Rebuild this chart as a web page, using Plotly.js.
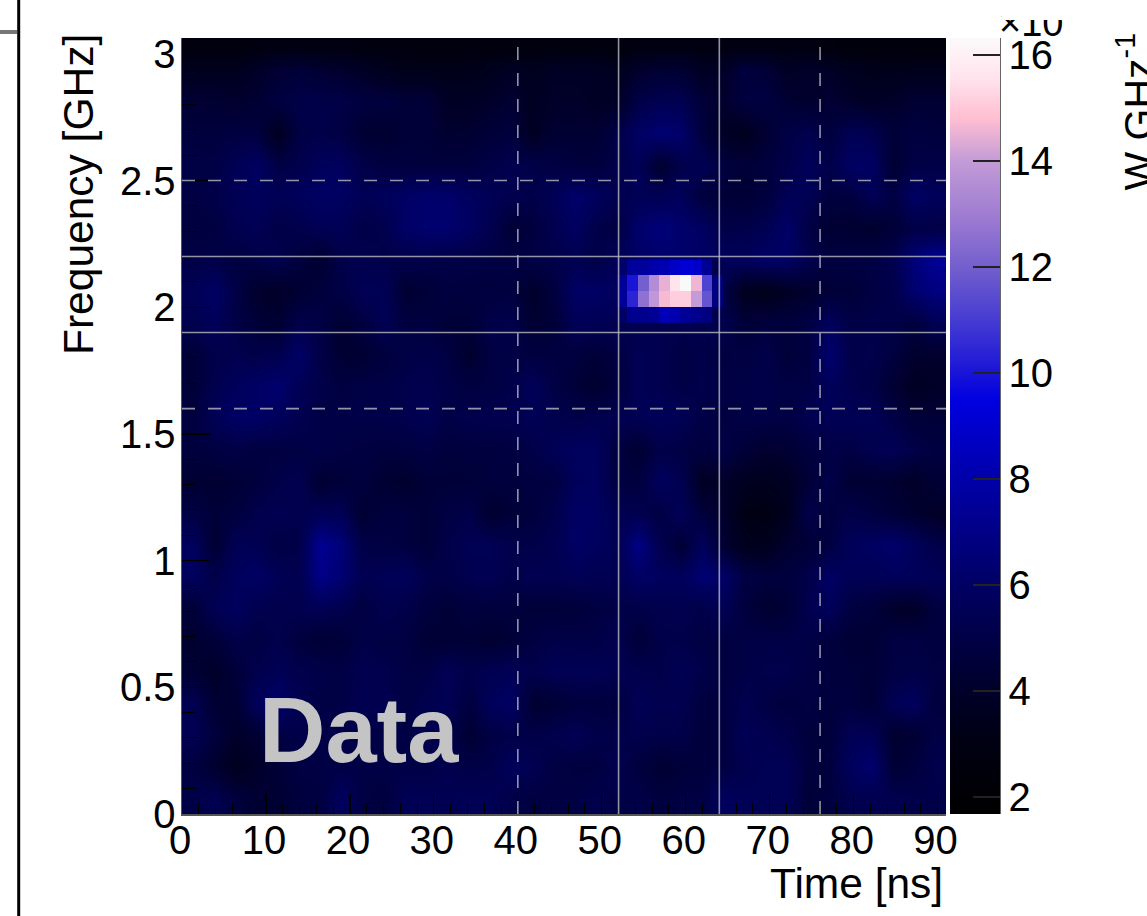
<!DOCTYPE html>
<html>
<head>
<meta charset="utf-8">
<script src="https://cdn.plot.ly/plotly-3.0.1.min.js"></script>
<style>html,body{margin:0;padding:0;background:#fff;overflow:hidden}#wrap{position:relative;width:1147px;height:916px}#chart{width:1147px;height:916px}#crop{position:absolute;left:1002px;top:0;width:90px;height:20px;background:#fff}</style>
</head>
<body>
<div id="wrap"><div id="chart"></div><div id="crop"></div></div>
<script>
// Background power, top row (highest frequency) first, 36 time bins per row
const backgroundPower = [
[2.7,2.7,2.7,2.8,2.9,2.9,2.9,2.9,2.8,2.8,2.7,2.7,2.7,2.7,2.7,2.7,2.7,2.7,2.7,2.7,2.7,2.9,2.9,2.9,2.9,2.9,2.9,2.9,2.9,2.9,2.7,2.6,2.6,2.6,2.6,2.6],
[3.5,3.5,3.5,3.9,4.3,4.5,4.3,4.1,3.8,3.5,3.3,3.3,3.3,3.3,3.5,3.8,3.5,3.8,3.8,3.8,3.5,4.1,4.3,4.3,3.7,3.9,4.7,4.5,3.8,4,3.9,3.5,3.4,3.3,3.4,3.4],
[4.3,4.3,4.1,4.3,4.8,5.1,5.1,5,4.8,4.7,4.5,4.5,3.8,3.8,4,4.3,3.6,4,4,3.8,3.9,5,5.4,5.4,4.5,4.1,4.8,4.8,4.3,4.1,4.3,4,3.8,4,4.3,4.3],
[4.7,4.7,4.8,4.8,3.6,4.9,5.1,4.9,4.3,4.2,4.5,4.5,4.2,4.3,4.5,4.7,3.7,4.3,4.3,4.3,5,6,6.4,6.2,4.7,3.8,3.5,4.3,5,5.3,4.7,5.5,5.3,4.5,4.8,4.7],
[5,4.9,5.5,5.9,5,5.2,5.7,5.8,5.1,4.8,4.7,4.7,4.7,4.7,5,5.3,5.1,4.9,4.7,4.7,5.1,5.6,4.2,5.2,5.5,4.8,4.5,4.7,5.1,5.7,5.1,6,6,4.3,5,5],
[4.9,5.1,5.5,5.7,5.5,5.7,6,5.9,5.5,5.7,6,6.2,6.2,5.8,5.5,5.3,5.1,5.5,6.2,5.8,5.3,5.5,5.5,5.7,4.7,4.5,4.4,4.7,5.5,5.5,4.7,4.8,5.5,4.9,6,5.7],
[4.7,4.8,5.3,5.5,5,5.2,5.5,5.5,5,5.2,6.1,6.3,6.3,5.9,5.3,4.4,4.7,5.3,5.9,5.1,4.8,6.2,6.6,6.2,5.9,5.1,5.1,5.4,6.1,4.9,4.3,4.3,4.1,4.5,5,5],
[5,5.1,4.8,5,5.3,4.7,4.2,5.1,5.3,5.1,5.1,5.1,5,5,4.9,4.9,5,5.1,5.4,5,5.6,6,6.2,6.2,6,5.8,5.7,6.1,6,5.3,4.8,4.9,4.9,5.3,6.6,7.4],
[5.5,6,5,4.1,3.9,4.3,4.7,5,5.5,5.5,4.3,4.5,4.8,4.7,4.7,4.8,4,4.7,6,6,5.8,7,8,8,5.5,5,3.6,3.3,3.8,4.1,4.5,4.5,4.9,5.1,6.3,6.8],
[5.3,5.7,5,4.5,4.3,5.2,5,4.3,4.8,5.5,4.8,4.8,4.5,4.5,5.1,5.2,4.3,4.5,5.6,5.5,5.4,5.2,5.3,5.3,5.2,5.3,4.5,4.7,4.7,4.9,5.8,5,5.1,5.1,4.7,5.5],
[4.5,5.1,5.3,5.1,5.3,6.1,5,4.3,4.3,4.7,5,5.1,4.9,4.1,4.9,5,4.8,4.8,4.7,4.5,4.8,5.5,5.3,4.9,5.1,4.8,4.9,5.1,4.5,4.8,6.3,5.1,5.2,4.8,4.1,4.1],
[4.5,5.3,5.7,6,6.3,5.5,5.1,4.8,5,5,5.2,5.3,5,4.8,4.9,5.1,5.6,5,4.5,4.2,4.7,5.5,5.3,5,5.2,4.9,5,5.1,4.9,5,5.7,5.2,5,4.3,3.7,3.9],
[4.8,5.5,6,6,5.7,5.3,5,5,5.1,5.1,5.2,5.5,5,5.2,5.3,5.3,5.5,5.3,5.1,5.3,5.3,5.5,5.6,5.5,5,4.8,5,5,4.9,5.3,5.5,5.5,5.5,5,4.5,4.5],
[4.7,4.8,5,4.8,4.8,4.9,5.1,4.9,4.8,4.7,4.8,4.9,4.7,4.7,4.7,4.8,5.1,5.5,5.8,5.8,4.7,4.3,5.1,4.9,4.7,5,4.5,4.2,4.3,4.7,5,4.9,5.3,5.5,5.1,4.8],
[4.3,4.3,4.4,4.7,5.1,5.3,4.3,4.5,4.7,4.3,4.1,4.5,4.5,4.5,4.7,4.7,4.8,4.8,5.7,5.8,4.8,4.7,5.8,5.3,3.7,4,3.6,3.5,3.7,4.5,5.1,4.3,4.3,4.2,3.9,4.4],
[4.9,4.5,4.7,5.2,5.4,5.2,5.5,5.5,4.3,4.7,4.7,4.5,4.9,5.1,4.2,4.5,4.7,5.1,6,5.9,5.3,5.3,4.9,5.6,4.6,4.1,3.1,3,3.5,5.1,4.7,5.1,4.8,4.5,4.2,3.9],
[5.8,4.3,5.5,5.4,4.9,5.1,7.3,6.6,5,4.9,4.8,4.5,5.1,5.5,5.5,5.2,5.1,5.3,6,5.8,5.4,6.9,5.3,4.4,5.7,4.3,3.5,3.5,4.2,4.5,4.8,5.7,5.9,6.2,5.7,5.1],
[5.8,5.1,5.7,6,5.5,5.3,7,6.4,5.4,5.5,5.7,5.1,5,5.3,5.4,5.1,5.4,5.4,5.5,5.4,5.4,6,5.8,5.7,6.4,6.1,4.9,4.7,4.7,5.1,6,5.5,5.5,5.7,5.7,5.5],
[4.5,5.5,5.8,5.3,5.2,5.3,5.5,5.3,4.8,5.3,5.1,4.7,4.5,4.7,4.7,4.7,4.5,4.5,4.6,4.8,5,5.1,5.2,5.3,5.1,5.5,4.7,4.2,4.4,5.3,5.7,4.8,4.6,4,3.9,4.8],
[4.2,4.5,5.1,4.9,5.2,4.7,4.4,4.5,5.1,4.9,4.9,4.4,4.4,4.5,4.2,4.5,4.8,5.1,5,5,5.3,4.5,5.1,5.1,4.9,4.8,5,5,5,5,4.7,4.4,4.4,4.9,4.9,4.7],
[4.3,4,4.5,5.2,5.5,5.2,5.1,4.9,5.3,5.2,4.9,4.9,5.5,5.1,5.4,5.5,5.2,5.5,5.5,5.5,5.3,5.2,5.1,5.5,5.1,4.8,5,5.2,5.2,4.9,4.7,4.6,4.5,4.9,5,4.9],
[5.4,4.3,4.3,5.7,6.2,5.3,4.9,5,5.4,5.3,4.9,5.3,5.5,4.8,5.7,6,4.3,4.4,4.7,4.7,4.7,5.5,5.3,5.3,4.7,4.8,5.3,4.9,4.7,4.9,4.7,4.7,4.4,5.5,5.8,4.7],
[5.4,4.7,4,4.3,4.9,5.1,5.1,5.1,5.1,5,4.9,5.3,5.1,4.3,4.9,5.1,5,5.2,5.5,5.1,5.1,5.2,5.1,5.1,4.6,4.8,5.5,5.3,5.1,4.6,4.6,5.5,5.5,4.2,4.3,5],
[4.8,4.2,3.5,4,4.5,4.9,4.9,5,5,5,5,5,5.3,5,5.1,5.7,5.4,4.9,4.8,4.8,5.3,4.7,4.3,4.5,4.7,4.8,5.3,5.5,5.5,4.7,4.7,5.8,6.3,4.4,4.7,5.2],
[5,5.4,4.7,4.3,4.3,4.7,4.8,5.8,4.9,4.7,5.5,5.5,5.4,5.5,5.5,5.1,4.8,4.9,4.9,5.2,4.9,5.1,4.7,4.9,4.9,5.8,5.5,5.5,5.5,4.5,4.7,5.3,5.3,5.3,5.1,5.1]
];
const backgroundFreqs = [3.03,2.9375,2.8125,2.6875,2.5625,2.4375,2.3125,2.1875,2.0625,1.9375,1.8125,1.6875,1.5625,1.4375,1.3125,1.1875,1.0625,0.9375,0.8125,0.6875,0.5625,0.4375,0.3125,0.1875,0.0625];

// The signal region, read cell by cell, lowest frequency row first
const peakTimeEdges = [51.8,53.07,54.33,55.6,56.86,58.12,59.39,60.65,61.92,63.18,64.45];
const peakFreqEdges = [1.9375,2.0,2.0625,2.125,2.1875];
const peakPower = [
[6,7.2,7.2,7.4,8.4,8.2,7.5,7.2,6.8,5.3],
[7.5,10.4,12.6,13.9,14.7,15.1,15.1,14,11.7,6.8],
[7.5,10,12,13.5,14.5,15.6,16.3,14.6,11.2,6.8],
[6.2,7.6,7.6,8,8.2,8.8,9.2,9,7.4,5.3]
];

const solidTimes = [52,64];
const dashedTimes = [40,76];
const solidFreqs = [1.9,2.2];
const dashedFreqs = [1.6,2.5];
const colorbarTicks = [2,4,6,8,10,12,14,16];
const timeTicks = [0,10,20,30,40,50,60,70,80,90];
const freqTicks = [0,0.5,1,1.5,2,2.5,3];
const freqTickLabels = ['0','0.5','1','1.5','2','2.5','3'];

const zMin = 1.68, zMax = 16.32;
const colorStops = [
[1.68,'rgb(0,0,0)'],[3,'rgb(0,0,18)'],[4,'rgb(0,0,42)'],[5,'rgb(0,0,70)'],[6,'rgb(0,0,100)'],
[7,'rgb(0,0,135)'],[8,'rgb(0,0,170)'],[9,'rgb(0,0,205)'],[9.5,'rgb(0,0,225)'],[10,'rgb(25,20,215)'],
[11,'rgb(70,60,210)'],[12,'rgb(115,95,205)'],[13,'rgb(160,125,210)'],[14,'rgb(195,155,215)'],
[14.8,'rgb(255,190,210)'],[15.5,'rgb(255,225,235)'],[16,'rgb(255,240,245)'],[16.32,'rgb(250,250,250)']
];
const colorscale = colorStops.map(s => [(s[0]-zMin)/(zMax-zMin), s[1]]);

const xMax = 91, yMax = 3.0625;
const bgTimes = backgroundPower[0].map((_, i) => (i+0.5)*xMax/36);
const FONT = 'Liberation Sans, Arial, sans-serif';

const traces = [
  {type:'heatmap', x:bgTimes, y:backgroundFreqs.slice().reverse(), z:backgroundPower.slice().reverse(),
   zmin:zMin, zmax:zMax, colorscale:colorscale, zsmooth:'best', hoverinfo:'skip',
   colorbar:{x:768/764, xanchor:'left', xpad:0, y:0, yanchor:'bottom', ypad:0, len:1, lenmode:'fraction',
     thickness:50, thicknessmode:'pixels', outlinewidth:0, tickmode:'array', tickvals:colorbarTicks,
     ticktext:colorbarTicks.map(String), ticks:'inside', ticklen:27, tickwidth:1.5, tickcolor:'#222',
     tickfont:{family:FONT,size:40,color:'#000'}}},
  {type:'heatmap', x:peakTimeEdges, y:peakFreqEdges, z:peakPower, zmin:zMin, zmax:zMax,
   colorscale:colorscale, showscale:false, zsmooth:false, hoverinfo:'skip'}
];

const lineStyle = (dashed) => ({color:'rgba(185,185,195,0.8)', width:1.6, dash: dashed ? '13px,13px' : 'solid'});
const shapes = [];
solidTimes.forEach(t => shapes.push({type:'line',xref:'x',yref:'paper',x0:t,x1:t,y0:0,y1:1,line:lineStyle(false)}));
dashedTimes.forEach(t => shapes.push({type:'line',xref:'x',yref:'paper',x0:t,x1:t,y0:0,y1:1,line:lineStyle(true)}));
solidFreqs.forEach(f => shapes.push({type:'line',xref:'paper',yref:'y',x0:0,x1:1,y0:f,y1:f,line:lineStyle(false)}));
dashedFreqs.forEach(f => shapes.push({type:'line',xref:'paper',yref:'y',x0:0,x1:1,y0:f,y1:f,line:lineStyle(true)}));
// colour bar axis line
shapes.push({type:'line',xref:'paper',yref:'paper',x0:818/764,x1:818/764,y0:0,y1:1,line:{color:'#666',width:2}});
// page edge remnants left of the chart
shapes.push({type:'line',xref:'paper',yref:'paper',x0:-163.3/764,x1:-163.3/764,y0:-102/776,y1:38/776+1,line:{color:'#000',width:3}});
shapes.push({type:'line',xref:'paper',yref:'paper',x0:-182/764,x1:-165/764,y0:782/776,y1:782/776,line:{color:'#777',width:4}});

const annotations = [
  {text:'Data',xref:'x',yref:'y',x:21.05,y:0.33,xanchor:'center',yanchor:'middle',showarrow:false,
   font:{family:FONT,size:92,color:'#c4c4c4',weight:700}},
  {text:'Time [ns]',xref:'paper',yref:'paper',x:763/764,y:-70/776,xanchor:'right',yanchor:'middle',showarrow:false,
   font:{family:FONT,size:42.5,color:'#000'}},
  {text:'Frequency [GHz]',xref:'paper',yref:'paper',x:-103/764,y:(814-195)/776,xanchor:'center',yanchor:'middle',textangle:-90,showarrow:false,
   font:{family:FONT,size:42.5,color:'#000'}},
  {text:'W GHz<sup>-1</sup>',xref:'paper',yref:'paper',x:953.5/764,y:(814-112)/776,xanchor:'center',yanchor:'middle',textangle:-90,showarrow:false,
   font:{family:FONT,size:41,color:'#000'}},
  {text:'\u00d710',xref:'paper',yref:'paper',x:816/764,y:(814-45)/776,xanchor:'left',yanchor:'bottom',showarrow:false,borderpad:0,
   font:{family:FONT,size:38,color:'#000'}}
];

const layout = {
  width:1147, height:916, paper_bgcolor:'#fff', plot_bgcolor:'#fff', showlegend:false,
  margin:{l:182,r:201,t:38,b:102,pad:0,autoexpand:false},
  font:{family:FONT,color:'#000'},
  xaxis:{range:[0,xMax],tickmode:'array',tickvals:timeTicks,ticktext:timeTicks.map(String),ticks:'inside',ticklen:20,tickwidth:1.2,tickcolor:'#000',
    ticklabelstandoff:-10,ticklabelshift:-2,
    tickfont:{family:FONT,size:40,color:'#000'},showgrid:false,zeroline:false,showline:true,linecolor:'#555',linewidth:1.5,
    minor:{dtick:2,tick0:0,ticks:'inside',ticklen:10,tickwidth:1,tickcolor:'#000',showgrid:false}},
  yaxis:{range:[0,yMax],tickmode:'array',tickvals:freqTicks,ticktext:freqTickLabels,ticks:'inside',ticklen:28,tickwidth:1.2,tickcolor:'#000',
    ticklabelstandoff:-3,
    tickfont:{family:FONT,size:40,color:'#000'},showgrid:false,zeroline:false,showline:true,linecolor:'#555',linewidth:1.5,
    minor:{dtick:0.1,tick0:0,ticks:'inside',ticklen:14,tickwidth:1,tickcolor:'#000',showgrid:false}},
  shapes:shapes, annotations:annotations
};
Plotly.newPlot('chart', traces, layout, {displayModeBar:false, staticPlot:true});
</script>
</body>
</html>
